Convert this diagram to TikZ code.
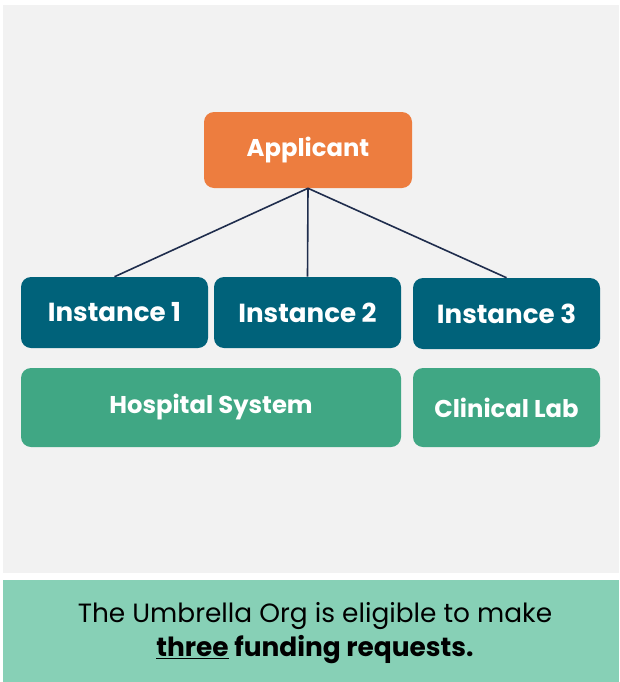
\documentclass[tikz,border=0pt]{standalone}
\usepackage{fontspec}
\setmainfont{Poppins}
\definecolor{bggray}{HTML}{F2F2F2}
\definecolor{orangebox}{HTML}{ED7D3F}
\definecolor{tealbox}{HTML}{00627A}
\definecolor{greenbox}{HTML}{40A784}
\definecolor{bandgreen}{HTML}{87D0B6}
\definecolor{linkcol}{HTML}{1F2D4D}
\begin{document}
\begin{tikzpicture}[x=0.75pt,y=-0.75pt,
  boxbase/.style={rectangle,rounded corners=7.5pt,inner sep=0pt,text=white,font=\fontsize{18.2}{22}\selectfont\bfseries,align=center},
  applbox/.style={boxbase,fill=orangebox,minimum width=156pt,minimum height=57pt},
  instbox/.style={boxbase,fill=tealbox,minimum width=140.25pt,minimum height=53.25pt,font=\fontsize{19.6}{23}\selectfont\bfseries},
  orgbox/.style={boxbase,fill=greenbox,minimum height=59.25pt},
  link/.style={draw=linkcol,line width=1.2pt}]
\useasboundingbox (0,0) rectangle (619,682);
\fill[white] (0,0) rectangle (619,682);
\fill[bggray] (3,5) rectangle (619,573);
\fill[bandgreen] (3,580) rectangle (619,682);
\node[applbox] (app) at (308,150) {Applicant};
\node[instbox] (i1) at (114.5,312.5) {Instance 1};
\node[instbox] (i2) at (307.5,312.5) {Instance 2};
\node[instbox] (i3) at (506.5,313.5) {Instance 3};
\node[orgbox,minimum width=285pt] (hosp) at (211,407.5) {Hospital System};
\node[orgbox,minimum width=140.25pt] (lab) at (506.5,407.5) {Clinical Lab};
\draw[link] (app.south) -- (i1.north);
\draw[link] (app.south) -- (i2.north);
\draw[link] (app.south) -- (i3.north);
\node[align=center,font=\fontsize{19.8}{25.5}\selectfont,text=black,inner sep=0pt] (note) at (315,633) {The Umbrella Org is eligible to make\\\textbf{\underline{three} funding requests.}};
\end{tikzpicture}
\end{document}
